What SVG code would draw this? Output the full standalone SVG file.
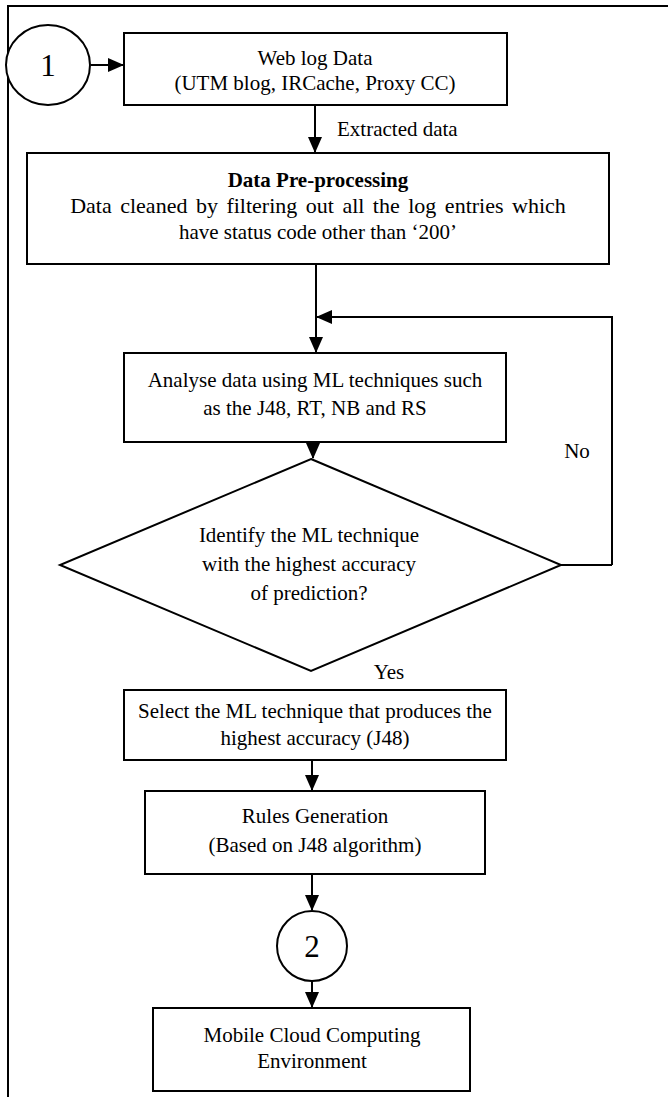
<svg xmlns="http://www.w3.org/2000/svg" width="668" height="1097" viewBox="0 0 668 1097">
<style>
.box{fill:#fff;stroke:#000;stroke-width:2}
.ln{fill:none;stroke:#000;stroke-width:2}
.t{font-family:"Liberation Serif","Times New Roman",serif;font-size:21px;fill:#000;text-anchor:middle}
.b{font-weight:bold}
</style>
<defs>
<marker id="ah" markerWidth="16" markerHeight="14" refX="15" refY="7" orient="auto" markerUnits="userSpaceOnUse">
<path d="M0,0 L16,7 L0,14 Z" fill="#000"/>
</marker>
</defs>
<rect width="668" height="1097" fill="#fff"/>
<g id="frame"><path class="ln" d="M8,1097 V6 H668"/></g>
<g id="connectors">
<path class="ln" d="M91,65 H123" marker-end="url(#ah)"/>
<path class="ln" d="M315,105 V152" marker-end="url(#ah)"/>
<path class="ln" d="M316,264 V352" marker-end="url(#ah)"/>
<path class="ln" d="M612,565 V317 H317" marker-end="url(#ah)"/>
<path class="ln" d="M561,565 H612"/>
<path class="ln" d="M313,442 V458" marker-end="url(#ah)"/>
<path class="ln" d="M312,760 V790" marker-end="url(#ah)"/>
<path class="ln" d="M312,874 V910" marker-end="url(#ah)"/>
<path class="ln" d="M312,981 V1007" marker-end="url(#ah)"/>
</g>
<g id="n1"><ellipse class="box" cx="48" cy="65" rx="42" ry="40"/><text class="t" x="48" y="76" style="font-size:31px">1</text></g>
<g id="webLog"><rect class="box" x="124" y="33" width="383" height="72"/>
<text class="t" x="315" y="65">Web log Data</text>
<text class="t" x="315" y="90">(UTM blog, IRCache, Proxy CC)</text></g>
<g id="lblExtracted"><text class="t" x="337" y="136" style="text-anchor:start">Extracted data</text></g>
<g id="preproc"><rect class="box" x="27" y="153" width="582" height="111"/>
<text class="t b" x="318" y="187">Data Pre-processing</text>
<text class="t" x="318" y="213" style="font-size:22px" word-spacing="3">Data cleaned by filtering out all the log entries which</text>
<text class="t" x="318" y="239">have status code other than ‘200’</text></g>
<g id="analyse"><rect class="box" x="124" y="353" width="382" height="89"/>
<text class="t" x="315" y="387">Analyse data using ML techniques such</text>
<text class="t" x="315" y="415">as the J48, RT, NB and RS</text></g>
<g id="decision"><polygon class="box" points="311,459 561,565 311,671 60,565"/>
<text class="t" x="309" y="542">Identify the ML technique</text>
<text class="t" x="309" y="571">with the highest accuracy</text>
<text class="t" x="309" y="600">of prediction?</text></g>
<g id="lblNo"><text class="t" x="577" y="458">No</text></g>
<g id="lblYes"><text class="t" x="389" y="679">Yes</text></g>
<g id="select"><rect class="box" x="124" y="690" width="382" height="70"/>
<text class="t" x="315" y="718">Select the ML technique that produces the</text>
<text class="t" x="315" y="745">highest accuracy (J48)</text></g>
<g id="rules"><rect class="box" x="145" y="791" width="340" height="83"/>
<text class="t" x="315" y="823">Rules Generation</text>
<text class="t" x="315" y="852">(Based on J48 algorithm)</text></g>
<g id="n2"><circle class="box" cx="312" cy="946" r="35"/><text class="t" x="312" y="957" style="font-size:31px">2</text></g>
<g id="mobile"><rect class="box" x="153" y="1008" width="317" height="83"/>
<text class="t" x="312" y="1042">Mobile Cloud Computing</text>
<text class="t" x="312" y="1068">Environment</text></g>
</svg>
